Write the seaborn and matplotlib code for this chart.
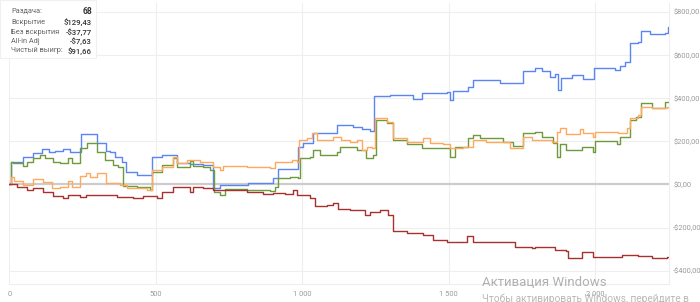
import matplotlib
matplotlib.use("Agg")
import matplotlib.pyplot as plt
import seaborn as sns
import pandas as pd
from matplotlib.ticker import FixedLocator, FuncFormatter
from matplotlib.patches import Rectangle

# ---- data (hand number, cumulative $) ----
blue_hands = [0, 5, 46, 81, 111, 135, 156, 183, 207, 244, 298, 330, 344, 361, 384, 398, 435, 486, 520,
              571, 617, 661, 696, 719, 815, 900, 916, 986, 1002, 1036, 1117, 1173, 1203, 1231, 1246, 1299,
              1378, 1408, 1493, 1504, 1514, 1565, 1583, 1675, 1754, 1794, 1817, 1846, 1863, 1874, 1883,
              1920, 1959, 1997, 2067, 2084, 2101, 2119, 2147, 2158, 2187, 2238, 2248]
blue_vals = [0, 106, 129, 145, 163, 151, 157, 163, 152, 233, 191, 155, 149, 129, 106, 59, 44, 129, 137,
             101, 95, 90, -18, -2, 8, 29, 70, 175, 191, 238, 277, 265, 256, 250, 411, 417,
             397, 423, 431, 392, 435, 451, 485, 472, 528, 539, 527, 500, 513, 438, 493,
             508, 488, 539, 531, 550, 570, 655, 662, 714, 698, 704, 729]

green_hands = [0, 5, 14, 46, 59, 81, 105, 122, 149, 173, 201, 213, 241, 264, 298, 327, 354, 371, 389, 435,
               469, 480, 486, 520, 559, 571, 617, 627, 661, 685, 699, 719, 736, 810, 890, 907, 918, 958,
               984, 992, 1026, 1038, 1060, 1117, 1129, 1186, 1217, 1242, 1252, 1288, 1311, 1356, 1408,
               1470, 1504, 1521, 1565, 1583, 1606, 1686, 1719, 1754, 1794, 1817, 1857, 1868, 1879, 1902,
               1954, 1993, 1999, 2073, 2084, 2119, 2141, 2158, 2193, 2221, 2238, 2248]
green_vals = [0, 106, 98, 86, 106, 122, 137, 122, 106, 98, 122, 101, 168, 191, 152, 114, 90, 80, -6, -13,
              -10, -26, 59, 90, 122, 83, 110, 86, 83, 67, -33, -49, -22, -26, -31, -10, 29, 36,
              29, 122, 129, 160, 137, 152, 175, 160, 122, 137, 299, 284, 206, 188, 168,
              168, 129, 172, 214, 230, 214, 199, 179, 238, 245, 222, 191, 129, 188, 160,
              175, 152, 203, 188, 222, 299, 315, 377, 354, 354, 384, 384]

orange_hands = [0, 5, 15, 46, 81, 115, 145, 173, 201, 213, 241, 262, 275, 298, 330, 378, 401, 469, 486,
                520, 559, 571, 605, 651, 696, 719, 730, 810, 890, 907, 964, 981, 989, 1015, 1032, 1049,
                1106, 1134, 1163, 1186, 1203, 1220, 1237, 1248, 1288, 1311, 1356, 1413, 1436, 1481,
                1504, 1550, 1584, 1629, 1675, 1709, 1754, 1783, 1851, 1868, 1879, 1902, 1948, 1959,
                1993, 1999, 2079, 2107, 2119, 2147, 2158, 2193, 2244, 2248]
orange_vals = [0, 33, 18, -2, 24, 13, -18, -10, 18, -10, 39, 55, 33, 55, 6, -2, -18, -26, 67,
               80, 129, 98, 114, 106, 80, 67, 86, 80, 75, 106, 114, 106, 206, 214, 238, 206,
               222, 205, 199, 206, 160, 175, 168, 307, 291, 214, 199, 214, 191, 188,
               168, 175, 206, 199, 199, 168, 219, 206, 199, 245, 261, 234, 256, 238,
               222, 245, 238, 261, 307, 322, 358, 354, 358, 358]

red_hands = [0, 25, 59, 81, 115, 149, 184, 201, 241, 262, 310, 367, 423, 457, 503, 520, 559, 617, 627,
             661, 696, 810, 867, 901, 941, 969, 981, 1026, 1043, 1083, 1106, 1123, 1163, 1214, 1231,
             1265, 1294, 1311, 1356, 1413, 1447, 1493, 1561, 1584, 1686, 1726, 1783, 1794, 1863,
             1902, 1908, 1954, 1993, 2033, 2090, 2147, 2193, 2244, 2248]
red_vals = [0, -10, -26, -18, -33, -53, -64, -49, -60, -49, -49, -60, -64, -53, -64, -33, -13, -33, -10,
            -18, -26, -33, -44, -38, -44, -26, -49, -64, -100, -95, -87, -115, -118, -141, -126,
            -118, -141, -214, -226, -234, -258, -265, -239, -265, -265, -291, -296, -289, -304,
            -307, -342, -312, -335, -338, -327, -332, -342, -338, -338]

series_names = ["Вскрытие", "Чистый выигрыш", "All-in Adj", "Без вскрытия"]
series_colors = ["#5b84f4", "#6f9a3c", "#ffa95e", "#a8302e"]

y_ticks = [-400, -200, 0, 200, 400, 600, 800]
x_ticks = [0, 500, 1000, 1500, 2000]
x_tick_labels = ["0", "500", "1 000", "1 500", "2 000"]

stat_labels = ["Раздача:", "Вскрытие", "Без вскрытия", "All-in Adj", "Чистый выигр:"]
stat_values = ["68", "$129,43", "-$37,77", "-$7,63", "$91,66"]

# ---- build table ----
frames = []
for name, h, v in [(series_names[0], blue_hands, blue_vals),
                   (series_names[1], green_hands, green_vals),
                   (series_names[2], orange_hands, orange_vals),
                   (series_names[3], red_hands, red_vals)]:
    frames.append(pd.DataFrame({"hand": h, "value": v, "series": name}))
df = pd.concat(frames, ignore_index=True)

sns.set_style("white")
plt.rcParams["font.family"] = ["Roboto", "DejaVu Sans"]

fig = plt.figure(figsize=(7.0, 3.02), dpi=100)
ax = fig.add_axes([9.3 / 700, 1 - 284 / 302, (669 - 9.3) / 700, (284 - 3) / 302])

# grid
for yt in y_ticks:
    if yt != 0:
        ax.axhline(yt, color="#eeeeee", lw=0.8, zorder=0)
for xt in x_ticks:
    ax.axvline(xt, color="#eeeeee", lw=0.8, zorder=0)
ax.axhline(0, color="#cccccc", lw=1.6, zorder=1)

sns.lineplot(data=df, x="hand", y="value", hue="series", hue_order=series_names,
             palette=series_colors, drawstyle="steps-post", estimator=None,
             linewidth=1.0, legend=False, ax=ax, zorder=3)

ax.set_xlim(0, 2252)
ax.set_ylim(-462, 842)
ax.set_xlabel("")
ax.set_ylabel("")

ax.yaxis.tick_right()
ax.yaxis.set_major_locator(FixedLocator(y_ticks))
ax.yaxis.set_major_formatter(FuncFormatter(
    lambda v, p: ("-$" if v < 0 else "$") + f"{abs(v):.2f}".replace(".", ",")))
ax.xaxis.set_major_locator(FixedLocator(x_ticks))
ax.set_xticklabels(x_tick_labels)
ax.tick_params(axis="both", length=0, labelsize=5.4, labelcolor="#9a9a9a")
ax.tick_params(axis="y", pad=3.0)
ax.tick_params(axis="x", pad=5)

for s in ["top", "left"]:
    ax.spines[s].set_visible(False)
for s in ["bottom", "right"]:
    ax.spines[s].set_color("#eeeeee")
    ax.spines[s].set_linewidth(0.8)

# stats box (top-left)
fig.patches.append(Rectangle((0, 1 - 58 / 302), 96 / 700, 58 / 302, transform=fig.transFigure,
                             facecolor="white", edgecolor="#f0f0f0", lw=0.8, zorder=5))
row_y = [11.5, 22, 32, 41.5, 51]
for i, (lab, val, yy) in enumerate(zip(stat_labels, stat_values, row_y)):
    fig.text(11 / 700, 1 - yy / 302, lab, fontsize=5.3, color="#666666", va="center", ha="left", zorder=6)
    fig.text(92 / 700, 1 - yy / 302, val, fontsize=5.6 if i else 6.2, color="#333333", va="center",
             ha="right", fontweight="bold" if i == 0 else "medium", zorder=6)

# OS watermark present in the reference
fig.text(482 / 700, 1 - 283 / 302, "Активация Windows", fontsize=9.5, color="#b0b0b0", va="center", ha="left")
fig.text(482 / 700, 1 - 299 / 302, "Чтобы активировать Windows, перейдите в", fontsize=7.3, color="#b8b8b8",
         va="center", ha="left")

fig.savefig("out.png", dpi=100)
